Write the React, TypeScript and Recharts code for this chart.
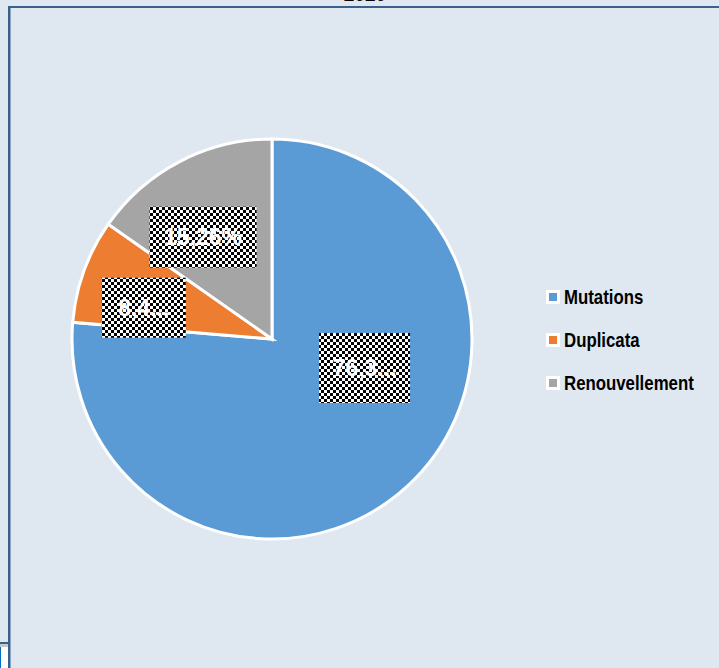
import React from "react";
import { PieChart, Pie, Cell, Legend } from "recharts";

const categories = ["Mutations", "Duplicata", "Renouvellement"];
const values = [76.3, 8.4, 15.26];
const labelTexts = ["76,3...", "8,4...", "15,26%"];
const titleText = "2020";

const colors = ["#5b9bd5", "#ed7d31", "#a5a5a5"];
const labelAngleShift = [30, 6.2, 6.6];
const labelRadiusFrac = [0.485, 0.66, 0.615];
const labelBoxW = [91, 84, 107];
const labelBoxH = [70, 60, 61];

const data = categories.map((name, i) => ({ name, value: values[i] }));

const RAD = Math.PI / 180;

const renderLabel = (props: any) => {
  const { cx, cy, midAngle, outerRadius, index } = props;
  const a = (midAngle + labelAngleShift[index]) * RAD;
  const r = outerRadius * labelRadiusFrac[index];
  const x = cx + r * Math.cos(a);
  const y = cy - r * Math.sin(a);
  const w = labelBoxW[index];
  const h = labelBoxH[index];
  const id = `chk-${index}`;
  return (
    <g>
      <defs>
        <pattern id={id} x={0} y={0} width={6} height={6} patternUnits="userSpaceOnUse">
          <rect x={0} y={0} width={6} height={6} fill="#000" />
          <rect x={0} y={0} width={3} height={3} fill="#fff" />
          <rect x={3} y={3} width={3} height={3} fill="#fff" />
        </pattern>
      </defs>
      <rect x={x - w / 2} y={y - h / 2} width={w} height={h} fill={`url(#${id})`} />
      <text
        x={x}
        y={y}
        textAnchor="middle"
        dominantBaseline="central"
        fill="#fff"
        fontFamily="Liberation Sans, Arial, sans-serif"
        fontWeight="bold"
        fontSize={23}
      >
        {labelTexts[index]}
      </text>
    </g>
  );
};

const renderLegend = () => (
  <div style={{ display: "flex", flexDirection: "column", gap: 20 }}>
    {categories.map((c, i) => (
      <div key={c} style={{ display: "flex", alignItems: "center", height: 23 }}>
        <div
          style={{
            width: 8,
            height: 8,
            background: colors[i],
            border: "3px solid #fff",
            marginRight: 4,
            flexShrink: 0,
          }}
        />
        <span
          style={{
            display: "inline-block",
            fontFamily: "Liberation Sans, Arial, sans-serif",
            fontWeight: "bold",
            fontSize: 21,
            color: "#000",
            lineHeight: "23px",
            transform: "scaleX(0.8)",
            transformOrigin: "left center",
            whiteSpace: "nowrap",
          }}
        >
          {c}
        </span>
      </div>
    ))}
  </div>
);

export default function App() {
  return (
    <div
      style={{
        position: "absolute",
        left: 0,
        top: 0,
        width: 719,
        height: 668,
        background: "#dfe8f1",
        overflow: "hidden",
      }}
    >
      <div
        style={{
          position: "absolute",
          left: 335,
          top: -15,
          width: 60,
          textAlign: "center",
          fontFamily: "Liberation Sans, Arial, sans-serif",
          fontWeight: "bold",
          fontSize: 19,
          lineHeight: "20px",
          color: "#000",
        }}
      >
        {titleText}
      </div>
      <div style={{ position: "absolute", left: 8, top: 6, width: 711, height: 2, background: "#3b6089" }} />
      <div style={{ position: "absolute", left: 8, top: 6, width: 2, height: 662, background: "#3b6089" }} />
      <div style={{ position: "absolute", left: 10, top: 8, width: 1, height: 660, background: "#8aa5c2" }} />
      <div style={{ position: "absolute", left: 0, top: 642, width: 8, height: 2, background: "#3b6089" }} />
      <div style={{ position: "absolute", left: 0, top: 644, width: 8, height: 24, background: "#fff" }} />
      <div style={{ position: "absolute", left: 0, top: 644, width: 8, height: 3, background: "#c8c8c8" }} />
      <div style={{ position: "absolute", left: 0, top: 647, width: 1, height: 21, background: "#0070c0" }} />
      <div style={{ position: "absolute", left: 0, top: 0 }}>
        <PieChart width={719} height={668} margin={{ top: 0, right: 0, bottom: 0, left: 0 }}>
          <Pie
            data={data}
            dataKey="value"
            nameKey="name"
            cx={272}
            cy={339}
            outerRadius={200}
            startAngle={90}
            endAngle={-270}
            stroke="#fff"
            strokeWidth={3}
            label={renderLabel}
            labelLine={false}
            isAnimationActive={false}
          >
            {data.map((d, i) => (
              <Cell key={d.name} fill={colors[i]} />
            ))}
          </Pie>
          <Legend
            layout="vertical"
            content={renderLegend}
            wrapperStyle={{ position: "absolute", left: 546, top: 285, width: 170 }}
          />
        </PieChart>
      </div>
    </div>
  );
}
